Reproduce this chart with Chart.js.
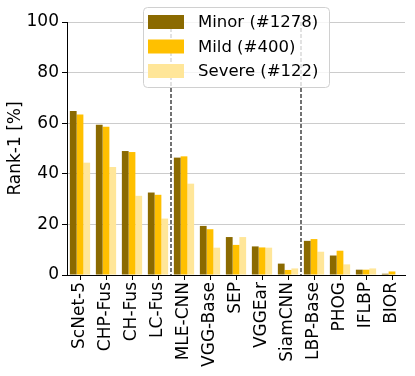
<!DOCTYPE html>
<html>
<head>
<meta charset="utf-8">
<script src="https://cdn.jsdelivr.net/npm/chart.js@4/dist/chart.umd.min.js"></script>
<style>
  html, body { margin: 0; padding: 0; background: #fff; }
  #wrap { position: relative; width: 415px; height: 376px; }
</style>
</head>
<body>
<div id="wrap"><canvas id="rankChart" width="415" height="376"></canvas></div>
<script>
const categories = ['ScNet-5', 'CHP-Fus', 'CH-Fus', 'LC-Fus', 'MLE-CNN', 'VGG-Base', 'SEP', 'VGGEar', 'SiamCNN', 'LBP-Base', 'PHOG', 'IFLBP', 'BIOR'];
const seriesNames = ['Minor (#1278)', 'Mild (#400)', 'Severe (#122)'];
const minorValues = [64.8, 59.4, 49.0, 32.6, 46.4, 19.4, 15.0, 11.3, 4.5, 13.5, 7.7, 2.1, 0.5];
const mildValues = [63.4, 58.6, 48.6, 31.7, 46.9, 18.1, 11.9, 10.9, 2.0, 14.2, 9.6, 2.1, 1.4];
const severeValues = [44.4, 42.7, 31.3, 22.3, 36.1, 10.8, 15.0, 10.8, 2.6, 9.2, 4.2, 2.6, 0];
const yTicks = [0, 20, 40, 60, 80, 100];
// group boundaries (between LC-Fus / MLE-CNN and SiamCNN / LBP-Base)
const separators = [3.5, 8.5];

const colors = ['#8b6a00', '#ffc000', '#ffe699'];
const FONT = 'DejaVu Sans';

// dashed vertical separators, drawn through the x scale
const separatorPlugin = {
    id: 'separators',
    afterDatasetsDraw(chart) {
        const { ctx, chartArea, scales } = chart;
        ctx.save();
        ctx.strokeStyle = '#444';
        ctx.lineWidth = 1.5;
        ctx.setLineDash([4, 2]);
        separators.forEach(s => {
            const lo = Math.floor(s), hi = Math.ceil(s);
            const x = (scales.x.getPixelForValue(lo) + scales.x.getPixelForValue(hi)) / 2;
            ctx.beginPath();
            ctx.moveTo(x, scales.y.getPixelForValue(100));
            ctx.lineTo(x, chartArea.bottom);
            ctx.stroke();
        });
        ctx.restore();
    }
};

// legend box inside the plot, like matplotlib's "upper center"
const boxLegendPlugin = {
    id: 'boxLegend',
    afterDraw(chart) {
        const ctx = chart.ctx;
        const bx = 143.5, by = 7.5, bw = 186, bh = 80;
        ctx.save();
        ctx.beginPath();
        ctx.roundRect(bx, by, bw, bh, 4);
        ctx.fillStyle = 'rgba(255,255,255,0.8)';
        ctx.fill();
        ctx.strokeStyle = '#d0d0d0';
        ctx.lineWidth = 1;
        ctx.stroke();
        ctx.font = `16.5px "${FONT}"`;
        ctx.textBaseline = 'middle';
        seriesNames.forEach((name, i) => {
            const cy = 22 + i * 24.5;
            ctx.fillStyle = colors[i];
            ctx.fillRect(148, cy - 7, 36, 14);
            ctx.fillStyle = '#000';
            ctx.fillText(name, 198, cy + 1);
        });
        ctx.restore();
    }
};

const ctx = document.getElementById('rankChart').getContext('2d');
const chart = new Chart(ctx, {
    type: 'bar',
    data: {
        labels: categories,
        datasets: [
            { label: seriesNames[0], data: minorValues, backgroundColor: colors[0] },
            { label: seriesNames[1], data: mildValues, backgroundColor: colors[1] },
            { label: seriesNames[2], data: severeValues, backgroundColor: colors[2] }
        ]
    },
    options: {
        responsive: false,
        animation: false,
        devicePixelRatio: 1,
        layout: { padding: { top: 22, right: 10, left: 0, bottom: 0 } },
        datasets: {
            bar: { categoryPercentage: 0.78, barPercentage: 1.0, borderWidth: 0 }
        },
        plugins: {
            legend: { display: false },
            tooltip: { enabled: false }
        },
        scales: {
            x: {
                offset: true,
                grid: {
                    offset: false,
                    drawOnChartArea: false,
                    color: '#000',
                    tickColor: '#000',
                    tickLength: 5,
                    tickBorderDash: []
                },
                border: { color: '#000', width: 1 },
                ticks: {
                    color: '#000',
                    font: { family: FONT, size: 17 },
                    minRotation: 90,
                    maxRotation: 90,
                    autoSkip: false,
                    padding: 2
                },
                afterFit(scale) { scale.height = 101; }
            },
            y: {
                min: 0,
                max: 100,
                afterBuildTicks(scale) { scale.ticks = yTicks.map(v => ({ value: v })); },
                grid: {
                    color: '#cccccc',
                    lineWidth: 1,
                    borderDash: [4, 2],
                    tickColor: '#000',
                    tickLength: 5,
                    tickBorderDash: []
                },
                border: { color: '#000', width: 1 },
                ticks: {
                    color: '#000',
                    font: { family: FONT, size: 17 },
                    padding: 3
                },
                title: {
                    display: true,
                    text: 'Rank-1 [%]',
                    color: '#000',
                    font: { family: FONT, size: 17 },
                    padding: { top: 5, bottom: 0 }
                },
                afterFit(scale) { scale.width = 67; }
            }
        }
    },
    plugins: [separatorPlugin, boxLegendPlugin]
});
</script>
</body>
</html>
